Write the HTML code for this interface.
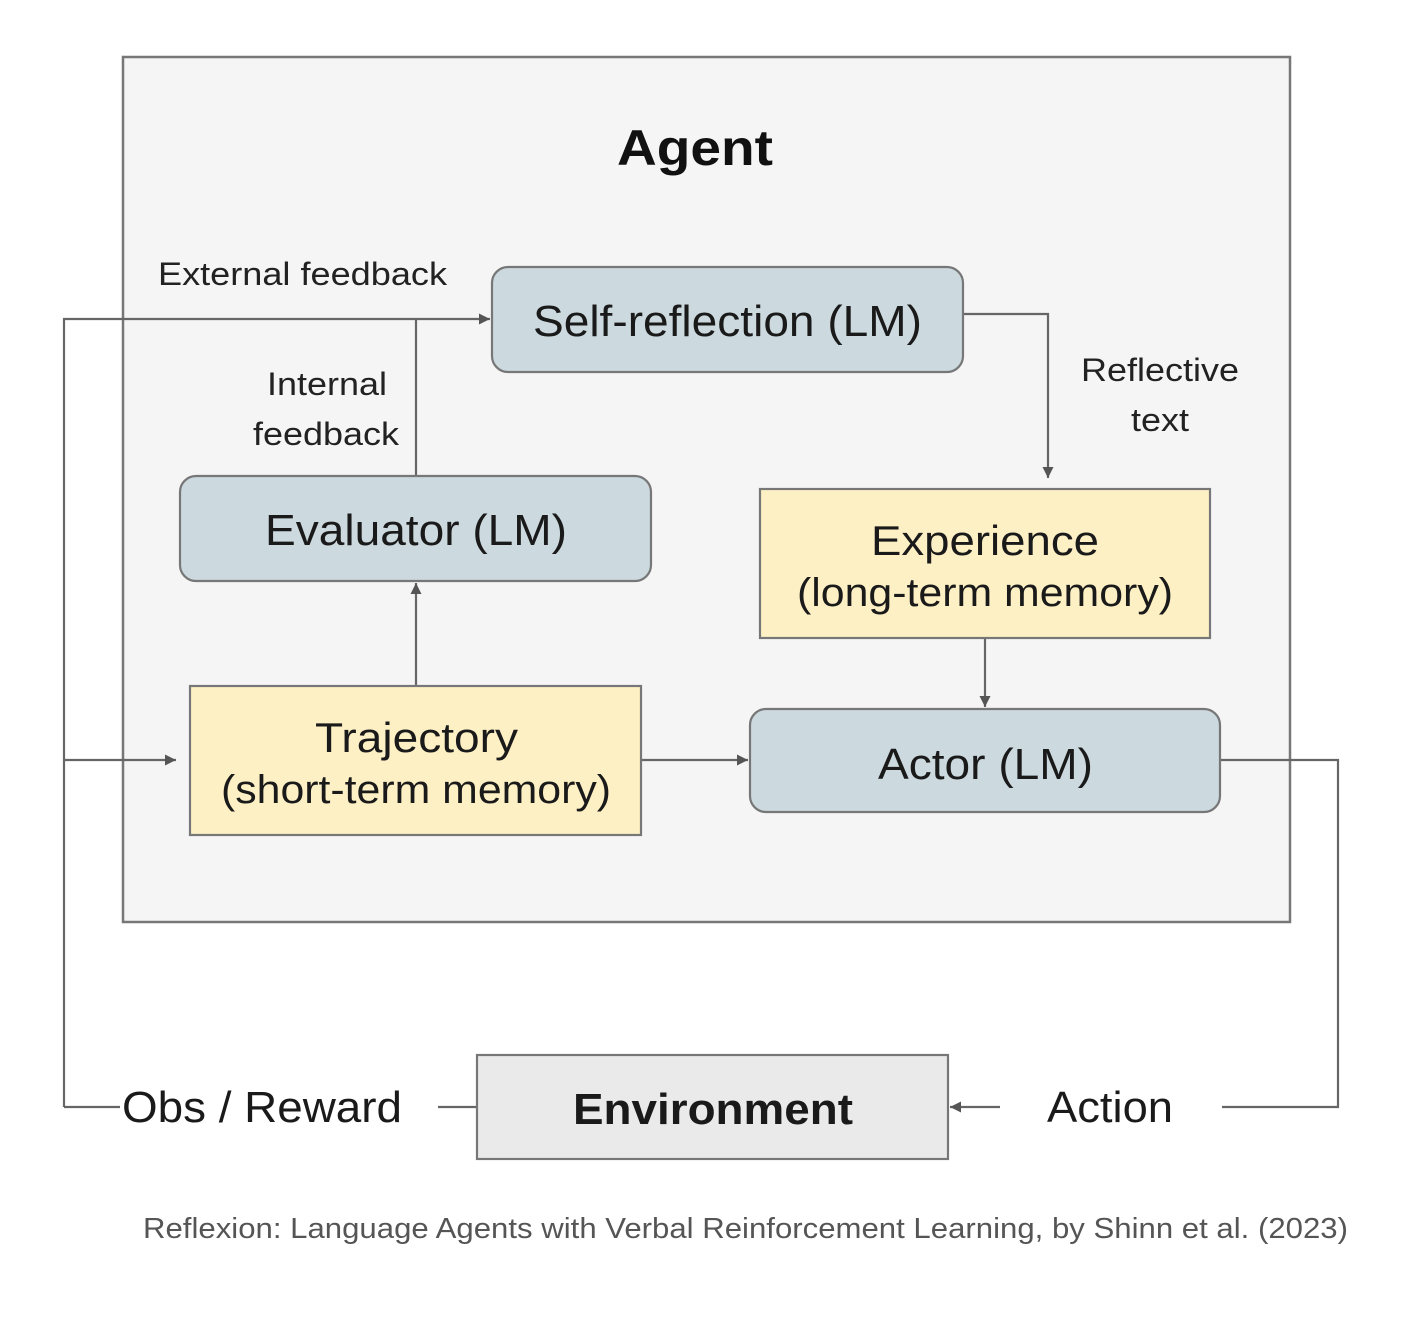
<!DOCTYPE html>
<html><head><style>html,body{margin:0;padding:0;background:#fff}</style></head><body>
<svg width="1418" height="1336" viewBox="0 0 1418 1336" xmlns="http://www.w3.org/2000/svg" font-family="Liberation Sans, Arial, sans-serif">
<defs><marker id="a" viewBox="0 0 10 10" refX="10" refY="5" markerWidth="5" markerHeight="5" orient="auto"><path d="M0,0L10,5L0,10z" fill="#555"/></marker></defs>
<rect x="123" y="57" width="1167" height="865" fill="#f5f5f5" stroke="#777" stroke-width="2.5"/>
<text x="617" y="165" textLength="156" lengthAdjust="spacingAndGlyphs" font-size="50" font-weight="bold" fill="#111">Agent</text>
<g stroke="#666" stroke-width="2.2" fill="none">
<polyline points="64,1107 64,319 490,319" marker-end="url(#a)"/>
<line x1="416" y1="476" x2="416" y2="319"/>
<line x1="416" y1="686" x2="416" y2="583" marker-end="url(#a)"/>
<line x1="64" y1="760" x2="176" y2="760" marker-end="url(#a)"/>
<polyline points="963,314 1048,314 1048,478" marker-end="url(#a)"/>
<line x1="985" y1="638" x2="985" y2="707" marker-end="url(#a)"/>
<line x1="641" y1="760" x2="748" y2="760" marker-end="url(#a)"/>
<polyline points="1220,760 1338,760 1338,1107 1222,1107"/>
<line x1="1000" y1="1107" x2="950" y2="1107" marker-end="url(#a)"/>
<line x1="64" y1="1107" x2="120" y2="1107"/>
<line x1="438" y1="1107" x2="477" y2="1107"/>
</g>
<g stroke="#777" stroke-width="2.2">
<rect x="492" y="267" width="471" height="105" rx="16" fill="#ccd9de"/>
<rect x="180" y="476" width="471" height="105" rx="16" fill="#ccd9de"/>
<rect x="760" y="489" width="450" height="149" fill="#fdf0c5"/>
<rect x="190" y="686" width="451" height="149" fill="#fdf0c5"/>
<rect x="750" y="709" width="470" height="103" rx="16" fill="#ccd9de"/>
<rect x="477" y="1055" width="471" height="104" fill="#eaeaea"/>
</g>
<g fill="#1a1a1a" font-size="44" lengthAdjust="spacingAndGlyphs">
<text x="533" y="336" textLength="389" lengthAdjust="spacingAndGlyphs">Self-reflection (LM)</text>
<text x="265" y="545" textLength="302" lengthAdjust="spacingAndGlyphs">Evaluator (LM)</text>
<text x="871" y="555" font-size="42" textLength="228" lengthAdjust="spacingAndGlyphs">Experience</text>
<text x="797" y="606" font-size="40" textLength="376" lengthAdjust="spacingAndGlyphs">(long-term memory)</text>
<text x="315" y="752" font-size="42" textLength="203" lengthAdjust="spacingAndGlyphs">Trajectory</text>
<text x="221" y="803" font-size="40" textLength="390" lengthAdjust="spacingAndGlyphs">(short-term memory)</text>
<text x="878" y="779" textLength="215" lengthAdjust="spacingAndGlyphs">Actor (LM)</text>
<text x="573" y="1124" font-weight="bold" textLength="280" lengthAdjust="spacingAndGlyphs">Environment</text>
<text x="1047" y="1122" textLength="126" lengthAdjust="spacingAndGlyphs">Action</text>
<text x="122" y="1122" textLength="280" lengthAdjust="spacingAndGlyphs">Obs / Reward</text>
</g>
<g fill="#222" font-size="32">
<text x="158" y="285" textLength="289" lengthAdjust="spacingAndGlyphs">External feedback</text>
<text x="267" y="395" textLength="120" lengthAdjust="spacingAndGlyphs">Internal</text>
<text x="253" y="445" textLength="146" lengthAdjust="spacingAndGlyphs">feedback</text>
<text x="1081" y="381" textLength="158" lengthAdjust="spacingAndGlyphs">Reflective</text>
<text x="1131" y="431" textLength="58" lengthAdjust="spacingAndGlyphs">text</text>
</g>
<text x="143" y="1238" font-size="29" fill="#555" textLength="1205" lengthAdjust="spacingAndGlyphs">Reflexion: Language Agents with Verbal Reinforcement Learning, by Shinn et al. (2023)</text>
</svg>
</body></html>
